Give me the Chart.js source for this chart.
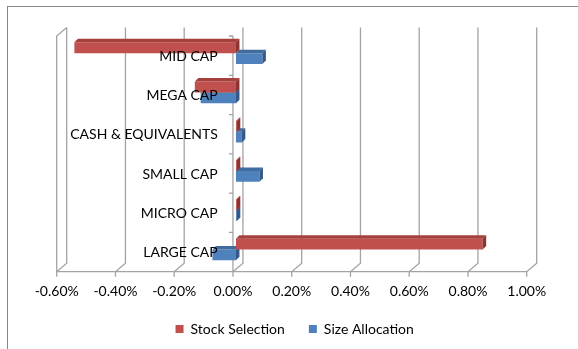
<!DOCTYPE html>
<html><head><meta charset="utf-8">
<script src="https://cdn.jsdelivr.net/npm/chart.js@4"></script>
<style>html,body{margin:0;padding:0;background:#fff}#wrap{width:578px;height:349px}</style>
</head><body><div id="wrap"><canvas id="c" width="578" height="349"></canvas></div>
<script>
const categories = ['MID CAP','MEGA CAP','CASH & EQUIVALENTS','SMALL CAP','MICRO CAP','LARGE CAP'];
const seriesNames = ['Stock Selection','Size Allocation'];
const stockSelection = [-0.55, -0.14, 0.003, 0.003, 0.003, 0.84];
const sizeAllocation = [0.09, -0.12, 0.02, 0.08, 0.003, -0.08];
const xTicks = [-0.6, -0.4, -0.2, 0, 0.2, 0.4, 0.6, 0.8, 1.0];

const FONT = 'Lato';
const FS = 14;
// plane offsets relative to the data plane (chartArea)
const FRONT = {dx: -3, dy: 2.5};
const BACK = {dx: 7, dy: -6};
const DEPTH = {dx: 3.5, dy: 3.5};
const GRID = '#a3a3a3';
const faceColors = [
  {front: '#C0504D', top: '#A6403D', side: '#8C3431'},
  {front: '#4F81BD', top: '#416C9F', side: '#345987'}
];

const frame3d = {
  id: 'frame3d',
  beforeDraw(chart) {
    const ctx = chart.ctx;
    ctx.save();
    ctx.fillStyle = '#fff';
    ctx.fillRect(0, 0, chart.width, chart.height);
    ctx.strokeStyle = '#888';
    ctx.lineWidth = 1;
    ctx.strokeRect(7.5, 6.5, 700, 500);
    ctx.restore();
  },
  beforeDatasetsDraw(chart) {
    const {ctx, chartArea: a, scales: {x}} = chart;
    const fTop = a.top + FRONT.dy, fBot = a.bottom + FRONT.dy;
    const bTop = a.top + BACK.dy, bBot = a.bottom + BACK.dy;
    ctx.save();
    ctx.strokeStyle = GRID;
    ctx.lineWidth = 1.3;
    ctx.beginPath();
    xTicks.forEach(v => {
      const px = x.getPixelForValue(v);
      const fx = px + FRONT.dx, bx = px + BACK.dx;
      ctx.moveTo(bx, bTop); ctx.lineTo(bx, bBot);
      ctx.lineTo(fx, fBot);
      ctx.moveTo(fx, fBot); ctx.lineTo(fx, fBot + 5);
    });
    const fl = x.getPixelForValue(xTicks[0]) + FRONT.dx;
    const fr = x.getPixelForValue(xTicks[xTicks.length - 1]) + FRONT.dx;
    ctx.moveTo(fl, fBot); ctx.lineTo(fr, fBot);
    const bl = x.getPixelForValue(xTicks[0]) + BACK.dx;
    ctx.moveTo(fl, fBot); ctx.lineTo(fl, fTop); ctx.lineTo(bl, bTop);
    const z = x.getPixelForValue(0) + FRONT.dx;
    ctx.moveTo(z, fTop); ctx.lineTo(z, fBot);
    const n = categories.length;
    for (let i = 0; i <= n; i++) {
      const yy = fTop + (fBot - fTop) * i / n;
      ctx.moveTo(z - 4, yy); ctx.lineTo(z, yy);
    }
    ctx.stroke();
    ctx.restore();
  },
  afterDatasetDraw(chart, args) {
    const ctx = chart.ctx;
    const c = faceColors[args.index];
    ctx.save();
    args.meta.data.forEach(el => {
      const left = Math.min(el.x, el.base), right = Math.max(el.x, el.base);
      const top = el.y - el.height / 2, bottom = el.y + el.height / 2;
      ctx.fillStyle = c.top;
      ctx.beginPath();
      ctx.moveTo(left, top);
      ctx.lineTo(left + DEPTH.dx, top - DEPTH.dy);
      ctx.lineTo(right + DEPTH.dx, top - DEPTH.dy);
      ctx.lineTo(right, top);
      ctx.closePath();
      ctx.fill();
      ctx.fillStyle = c.side;
      ctx.beginPath();
      ctx.moveTo(right, top);
      ctx.lineTo(right + DEPTH.dx, top - DEPTH.dy);
      ctx.lineTo(right + DEPTH.dx, bottom - DEPTH.dy);
      ctx.lineTo(right, bottom);
      ctx.closePath();
      ctx.fill();
    });
    ctx.restore();
  }
};

new Chart(document.getElementById('c'), {
  type: 'bar',
  data: {
    labels: categories,
    datasets: [
      {label: seriesNames[0], data: stockSelection, backgroundColor: faceColors[0].front, order: 0},
      {label: seriesNames[1], data: sizeAllocation, backgroundColor: faceColors[1].front, order: 1}
    ]
  },
  options: {
    indexAxis: 'y',
    responsive: false,
    animation: false,
    events: [],
    categoryPercentage: 0.55,
    barPercentage: 1,
    layout: {padding: {top: 33.5, left: 59.7, right: 48.3, bottom: 3}},
    scales: {
      x: {
        type: 'linear',
        min: xTicks[0], max: xTicks[xTicks.length - 1],
        afterBuildTicks: s => { s.ticks = xTicks.map(v => ({value: v})); },
        afterFit: s => { s.height = 28.8; },
        grid: {display: false, drawTicks: false},
        border: {display: false},
        ticks: {
          padding: 14, labelOffset: FRONT.dx, color: '#000',
          font: {family: FONT, size: FS},
          callback: v => (Math.abs(v) < 1e-9 ? 0 : v).toFixed(2) + '%'
        }
      },
      y: {
        type: 'category',
        position: {x: -0.062},
        grid: {display: false, drawTicks: false},
        border: {display: false},
        ticks: {z: 1, padding: 0, labelOffset: 3, color: '#000', font: {family: FONT, size: FS}}
      }
    },
    plugins: {
      legend: {
        position: 'bottom',
        labels: {boxWidth: 8, boxHeight: 8, padding: 24, color: '#000', font: {family: FONT, size: FS}}
      },
      tooltip: {enabled: false}
    }
  },
  plugins: [frame3d]
});
</script>
</body></html>
